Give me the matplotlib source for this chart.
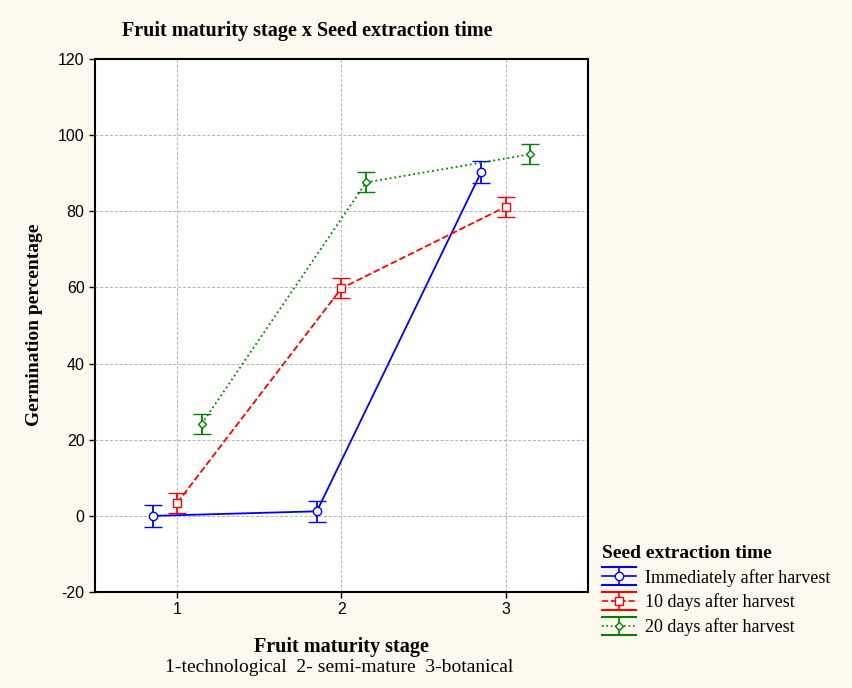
import matplotlib.pyplot as plt
from matplotlib.legend_handler import HandlerBase
from matplotlib.lines import Line2D

plt.rcParams['axes.unicode_minus'] = False

stages = [1, 2, 3]
series_names = ['Immediately after harvest', '10 days after harvest', '20 days after harvest']
immediately = [0.0, 1.2, 90.3]
days10 = [3.4, 59.8, 81.2]
days20 = [24.2, 87.6, 95.0]
err_immediately = [2.8, 2.8, 2.8]
err_days10 = [2.6, 2.6, 2.6]
err_days20 = [2.6, 2.6, 2.6]

bg = '#fdf9ee'
colors = ['#0000ff', '#ff0000', '#008000']
styles = ['-', '--', ':']
markers = ['o', 's', 'D']
offsets = [-0.15, 0.0, 0.15]


class ErrHandler(HandlerBase):
    # horizontal caps over the whole handle, like the original legend
    def create_artists(self, legend, orig_handle, xdescent, ydescent, width, height, fontsize, trans):
        dl = orig_handle.lines[0]
        c = dl.get_color()
        cy = height / 2 - ydescent
        x0, x1 = -xdescent, width - xdescent
        xm = (x0 + x1) / 2
        d = 0.5 * fontsize
        arts = [
            Line2D([x0, x1], [cy + d, cy + d], color=c, lw=1.5),
            Line2D([x0, x1], [cy - d, cy - d], color=c, lw=1.5),
            Line2D([xm, xm], [cy - d, cy + d], color=c, lw=1.2),
            Line2D([x0, x1], [cy, cy], color=c, lw=1.2, ls=dl.get_linestyle()),
            Line2D([xm], [cy], marker=dl.get_marker(), ms=dl.get_markersize(),
                   mfc='white', mec=c, mew=1.0, ls='none'),
        ]
        for a in arts:
            a.set_transform(trans)
        return arts


fig = plt.figure(figsize=(8.53, 6.88), dpi=100, facecolor=bg)
ax = fig.add_axes([0.1114, 0.1395, 0.5779, 0.7747])
ax.set_facecolor('white')

values = [immediately, days10, days20]
errs = [err_immediately, err_days10, err_days20]
for vals, err, c, ls, m, off, name in zip(values, errs, colors, styles, markers, offsets, series_names):
    xs = [s + off for s in stages]
    ax.errorbar(xs, vals, yerr=err, color=c, ls=ls, lw=1.3, marker=m,
                ms=6 if m != 'D' else 4.5, mfc='white', mec=c, mew=1.0,
                capsize=6.5, capthick=1.5, elinewidth=1.3, label=name)

ax.set_xlim(0.5, 3.5)
ax.set_ylim(-20, 120)
ax.set_xticks(stages)
ax.set_yticks(range(-20, 121, 20))
ax.grid(True, color='#b0b0b0', ls=(0, (3, 2)), lw=0.7)
ax.set_axisbelow(True)
for sp in ax.spines.values():
    sp.set_linewidth(1.5)
ax.tick_params(labelsize=11.5, length=4, width=1)
for lab in ax.get_xticklabels() + ax.get_yticklabels():
    lab.set_fontfamily('Liberation Sans')

fig.text(307 / 853, 1 - 31 / 688, 'Fruit maturity stage x Seed extraction time',
         family='Liberation Serif', weight='bold', fontsize=14.5, ha='center', va='center')
fig.text(341 / 853, 1 - 647 / 688, 'Fruit maturity stage',
         family='Liberation Serif', weight='bold', fontsize=14.5, ha='center', va='center')
fig.text(339 / 853, 1 - 668 / 688, '1-technological  2- semi-mature  3-botanical',
         family='Liberation Serif', fontsize=14, ha='center', va='center')
fig.text(35 / 853, 1 - 325 / 688, 'Germination percentage', rotation=90,
         family='Liberation Serif', weight='bold', fontsize=14, ha='center', va='center')

handles, labels = ax.get_legend_handles_labels()
leg = fig.legend(handles, labels, loc='upper left', bbox_to_anchor=(602 / 853, 1 - 545 / 688),
                 frameon=False, title='Seed extraction time',
                 prop={'family': 'Liberation Serif', 'size': 13},
                 handler_map={h: ErrHandler() for h in handles},
                 handlelength=1.9, handletextpad=0.5, labelspacing=0.38, borderaxespad=0,
                 borderpad=0, alignment='left')
leg.get_title().set_fontfamily('Liberation Serif')
leg.get_title().set_fontweight('bold')
leg.get_title().set_fontsize(14)

fig.savefig('out.png', dpi=100, facecolor=bg)
